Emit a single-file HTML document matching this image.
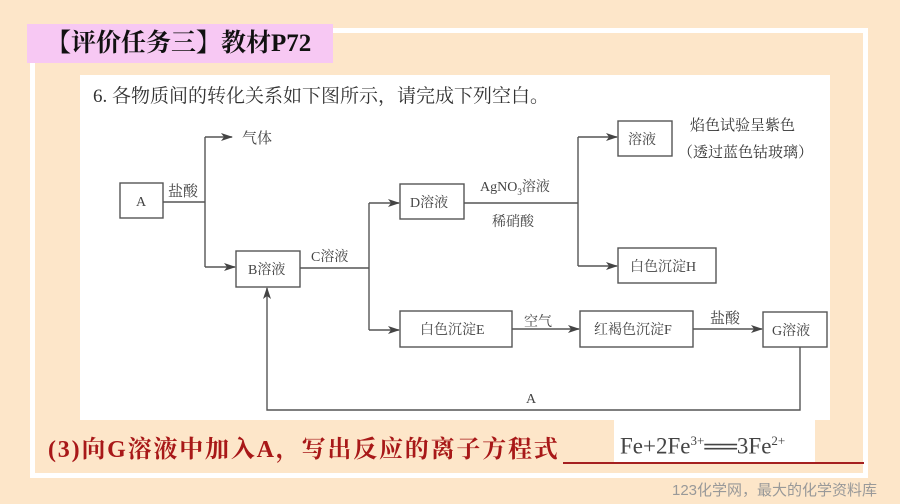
<!DOCTYPE html>
<html><head><meta charset="utf-8"><style>
html,body{margin:0;padding:0;}
body{width:900px;height:504px;background:#fde6c9;position:relative;overflow:hidden;font-family:"Liberation Serif","Noto Serif CJK SC",serif;}
.abs{position:absolute;}
</style></head><body>
<div class="abs" style="left:30px;top:28px;width:838px;height:450px;border:5px solid #fff;box-sizing:border-box;"></div>
<div class="abs" style="left:27px;top:24px;width:306px;height:39px;background:#f7c8f3;"></div>
<div class="abs" style="left:46px;top:27px;font-size:25px;font-weight:bold;color:#111;line-height:34px;white-space:nowrap;">【评价任务三】教材P72</div>
<div class="abs" style="left:80px;top:75px;width:750px;height:345px;background:#fff;"></div>
<div class="abs" style="left:93px;top:83px;font-family:'Liberation Serif','Noto Serif CJK SC',serif;font-size:19px;color:#333;line-height:24px;white-space:nowrap;">6. 各物质间的转化关系如下图所示<span style="font-family:'Noto Serif CJK SC',serif">，</span>请完成下列空白。</div>
<svg class="abs" style="left:0;top:0" width="900" height="504" font-family="Liberation Serif, Noto Serif CJK SC, serif" font-size="14" fill="#444">
<defs><marker id="ar" markerWidth="12" markerHeight="8" refX="11" refY="4" orient="auto" markerUnits="userSpaceOnUse"><path d="M0,0 L12,4 L0,8 L3,4z" fill="#444"/></marker></defs>
<g stroke="#555" stroke-width="1.4" fill="none">
<rect x="120" y="183" width="43" height="35"/>
<rect x="236" y="251" width="64" height="36"/>
<rect x="400" y="184" width="64" height="35"/>
<rect x="400" y="311" width="112" height="36"/>
<rect x="580" y="311" width="113" height="36"/>
<rect x="763" y="312" width="64" height="35"/>
<rect x="618" y="121" width="54" height="35"/>
<rect x="618" y="248" width="98" height="35"/>
<path d="M163,202 H205 M205,137 V267"/>
<path d="M205,137 H232" marker-end="url(#ar)"/>
<path d="M205,267 H235" marker-end="url(#ar)"/>
<path d="M300,268 H369 M369,203 V330"/>
<path d="M369,203 H399" marker-end="url(#ar)"/>
<path d="M369,330 H399" marker-end="url(#ar)"/>
<path d="M464,203 H578 M578,137 V266"/>
<path d="M578,137 H617" marker-end="url(#ar)"/>
<path d="M578,266 H617" marker-end="url(#ar)"/>
<path d="M512,329 H579" marker-end="url(#ar)"/>
<path d="M693,329 H762" marker-end="url(#ar)"/>
<path d="M800,347 V410 H267 V288" marker-end="url(#ar)"/>
</g>
<text x="136" y="206">A</text>
<text x="168" y="196" font-size="15">盐酸</text>
<text x="242" y="143" font-size="15">气体</text>
<text x="248" y="274">B溶液</text>
<text x="311" y="261">C溶液</text>
<text x="410" y="207">D溶液</text>
<text x="480" y="191">AgNO<tspan font-size="9" dy="4">3</tspan><tspan dy="-4">溶液</tspan></text>
<text x="492" y="226">稀硝酸</text>
<text x="628" y="144">溶液</text>
<text x="690" y="130" font-size="15" fill="#333">焰色试验呈紫色</text>
<text x="678" y="157" font-size="15" fill="#333">（透过蓝色钴玻璃）</text>
<text x="630" y="271">白色沉淀H</text>
<text x="420" y="334">白色沉淀E</text>
<text x="524" y="326">空气</text>
<text x="594" y="334">红褐色沉淀F</text>
<text x="710" y="323" font-size="15">盐酸</text>
<text x="772" y="335">G溶液</text>
<text x="526" y="403">A</text>
</svg>
<div class="abs" style="left:614px;top:420px;width:201px;height:43px;background:#fff;"></div>
<div class="abs" style="left:563px;top:462px;width:301px;height:2px;background:#a52020;"></div>
<div class="abs" style="left:48px;top:431px;font-size:24px;font-weight:bold;color:#a81818;white-space:nowrap;line-height:32px;letter-spacing:1.8px;">(3)向G溶液中加入A<span style="font-family:'Noto Serif CJK SC',serif">，</span>写出反应的离子方程式</div>
<div class="abs" style="left:620px;top:425px;font-size:23px;color:#444;white-space:nowrap;line-height:32px;">Fe+2Fe<sup style="font-size:13px">3+</sup>══3Fe<sup style="font-size:13px">2+</sup></div>
<div class="abs" style="left:672px;top:479px;font-family:'Liberation Sans','Noto Sans CJK SC',sans-serif;font-size:15px;color:#999;white-space:nowrap;">123化学网，最大的化学资料库</div>
</body></html>
